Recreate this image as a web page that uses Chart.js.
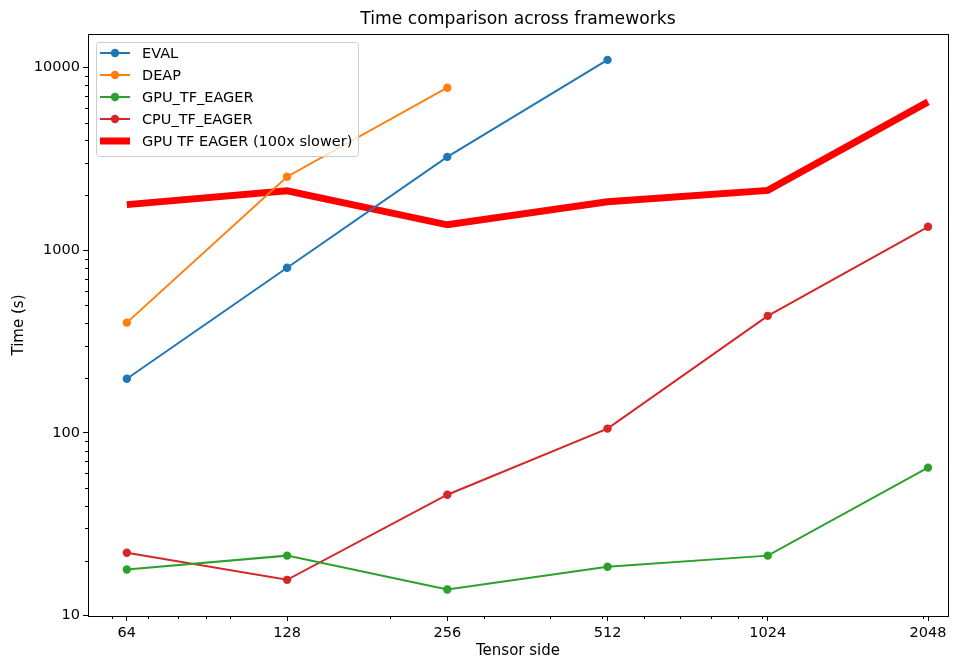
<!DOCTYPE html>
<html>
<head>
<meta charset="utf-8">
<script src="https://cdn.jsdelivr.net/npm/chart.js@4"></script>
<style>
  html, body { margin: 0; padding: 0; background: #fff; }
  #wrap { width: 962px; height: 657px; }
</style>
</head>
<body>
<div id="wrap"><canvas id="timeChart" width="962" height="657"></canvas></div>
<script>
// 데이터
const tensorSide = [64, 128, 256, 512, 1024, 2048];
const evalTimes = [198, 803, 3250, 11040];
const deapTimes = [402, 2530, 7770];
const gpuTfEager = [17.9, 21.3, 13.9, 18.5, 21.3, 64.6];
const cpuTfEager = [22.1, 15.7, 45.9, 105.7, 438, 1346];
const gpuTfEagerSlow = [1780, 2120, 1380, 1845, 2130, 6500];

const yMajor = [10, 100, 1000, 10000];
const yMinor = [20, 30, 40, 50, 60, 70, 80, 90, 200, 300, 400, 500, 600, 700, 800, 900,
  2000, 3000, 4000, 5000, 6000, 7000, 8000, 9000];
const xMinor = [60, 70, 80, 90, 100, 200, 300, 400, 500, 600, 700, 800, 900, 1000, 2000];

const FONT = "'DejaVu Sans', sans-serif";

const toPoints = (vals) => vals.map((v, i) => ({ x: tensorSide[i], y: v }));

const series = [
  { label: "EVAL", data: evalTimes, color: "#1f77b4", width: 2, marker: true },
  { label: "DEAP", data: deapTimes, color: "#ff7f0e", width: 2, marker: true },
  { label: "GPU_TF_EAGER", data: gpuTfEager, color: "#2ca02c", width: 2, marker: true },
  { label: "CPU_TF_EAGER", data: cpuTfEager, color: "#d62728", width: 2, marker: true },
  { label: "GPU TF EAGER (100x slower)", data: gpuTfEagerSlow, color: "#ff0000", width: 7, marker: false },
];

// 프레임, 제목, 보조 눈금, 범례를 직접 그림
const decorPlugin = {
  id: "decor",
  afterDraw(chart) {
    const { ctx, chartArea: a, scales } = chart;
    ctx.save();
    // 보조 눈금
    ctx.strokeStyle = "#000";
    ctx.lineWidth = 1;
    ctx.beginPath();
    yMinor.forEach((v) => {
      const y = Math.round(scales.y.getPixelForValue(v)) + 0.5;
      ctx.moveTo(a.left, y);
      ctx.lineTo(a.left - 3, y);
    });
    xMinor.forEach((v) => {
      const x = Math.round(scales.x.getPixelForValue(v)) + 0.5;
      if (x < a.left || x > a.right) return;
      ctx.moveTo(x, a.bottom);
      ctx.lineTo(x, a.bottom + 3);
    });
    ctx.stroke();

    // 프레임
    ctx.strokeRect(Math.round(a.left) + 0.5, Math.round(a.top) + 0.5,
      Math.round(a.right - a.left), Math.round(a.bottom - a.top));

    // 제목 / 축 제목
    ctx.fillStyle = "#000";
    ctx.textAlign = "center";
    ctx.textBaseline = "middle";
    ctx.font = "17.2px " + FONT;
    ctx.fillText("Time comparison across frameworks", (a.left + a.right) / 2, 20);
    ctx.font = "15px " + FONT;
    ctx.fillText("Tensor side", (a.left + a.right) / 2, 651);
    ctx.translate(19, (a.top + a.bottom) / 2);
    ctx.rotate(-Math.PI / 2);
    ctx.fillText("Time (s)", 0, 0);
    ctx.restore();

    // 범례
    ctx.save();
    const bx = 96, by = 42, bw = 262, bh = 114;
    ctx.beginPath();
    ctx.roundRect(bx + 0.5, by + 0.5, bw, bh, 3);
    ctx.fillStyle = "rgba(255,255,255,0.8)";
    ctx.fill();
    ctx.strokeStyle = "#cccccc";
    ctx.lineWidth = 1;
    ctx.stroke();
    ctx.font = "14.5px " + FONT;
    ctx.textAlign = "left";
    ctx.textBaseline = "middle";
    series.forEach((s, i) => {
      const y = 53 + i * 22;
      ctx.strokeStyle = s.color;
      ctx.lineWidth = s.width;
      ctx.beginPath();
      ctx.moveTo(100, y);
      ctx.lineTo(130, y);
      ctx.stroke();
      if (s.marker) {
        ctx.fillStyle = s.color;
        ctx.beginPath();
        ctx.arc(115, y, 4.2, 0, Math.PI * 2);
        ctx.fill();
      }
      ctx.fillStyle = "#000";
      ctx.fillText(s.label, 142, y + 1);
    });
    ctx.restore();
  },
};

const canvas = document.getElementById("timeChart");
const timeChart = new Chart(canvas, {
  type: "line",
  data: {
    datasets: series.map((s) => ({
      label: s.label,
      data: toPoints(s.data),
      borderColor: s.color,
      backgroundColor: s.color,
      borderWidth: s.width,
      pointRadius: s.marker ? 4.2 : 0,
      pointBorderWidth: 0,
      pointHoverRadius: 0,
      tension: 0,
      fill: false,
    })),
  },
  options: {
    responsive: false,
    animation: false,
    layout: {
      padding: { top: 34, right: 14, left: 0, bottom: 0 },
    },
    scales: {
      x: {
        type: "logarithmic",
        min: 54.1,
        max: 2233,
        afterBuildTicks: (scale) => {
          scale.ticks = tensorSide.map((v) => ({ value: v, major: true }));
        },
        afterFit: (scale) => {
          scale.height = 41;
        },
        ticks: {
          autoSkip: false,
          maxRotation: 0,
          padding: 4,
          color: "#000",
          font: { family: FONT, size: 14.5 },
          callback: (v) => String(v),
        },
        grid: {
          drawOnChartArea: false,
          drawTicks: true,
          tickLength: 5,
          color: "#000",
        },
        border: { display: false },
      },
      y: {
        type: "logarithmic",
        min: 9.95,
        max: 15300,
        afterBuildTicks: (scale) => {
          scale.ticks = yMajor.map((v) => ({ value: v, major: true }));
        },
        afterFit: (scale) => {
          scale.width = 88;
        },
        ticks: {
          autoSkip: false,
          padding: 3,
          color: "#000",
          font: { family: FONT, size: 14.5 },
          callback: (v) => String(v),
        },
        grid: {
          drawOnChartArea: false,
          drawTicks: true,
          tickLength: 5,
          color: "#000",
        },
        border: { display: false },
      },
    },
    plugins: {
      legend: { display: false },
      title: { display: false },
      tooltip: { enabled: false },
    },
  },
  plugins: [decorPlugin],
});
</script>
</body>
</html>
